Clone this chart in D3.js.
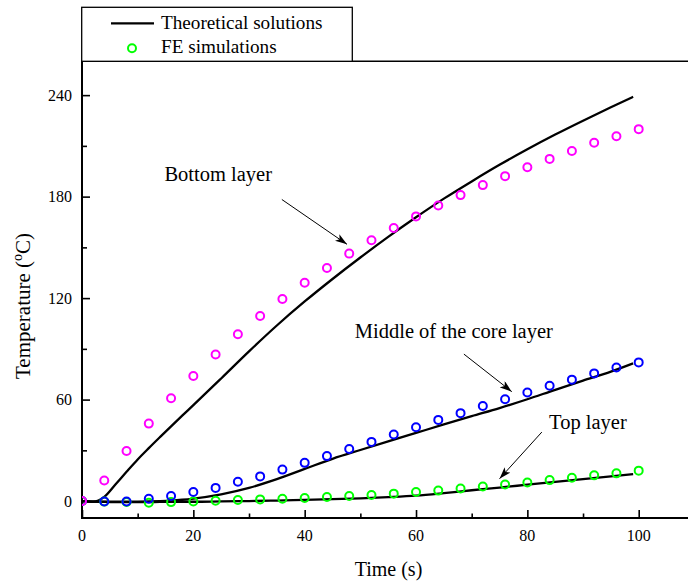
<!DOCTYPE html>
<html>
<head>
<meta charset="utf-8">
<script src="https://cdn.jsdelivr.net/npm/d3@7"></script>
<style>
  html, body { margin: 0; padding: 0; background: #fff; }
  svg { display: block; font-family: "Liberation Serif", "Times New Roman", serif; }
</style>
</head>
<body>
<svg id="chart" width="688" height="584"></svg>
<script>
// FE simulation sample times (s)
const timeFE = [0, 4, 8, 12, 16, 20, 24, 28, 32, 36, 40, 44, 48, 52, 56, 60, 64, 68, 72, 76, 80, 84, 88, 92, 96, 100];
// FE simulated temperatures (°C)
const bottomFE = [0, 12.2, 29.6, 45.8, 60.8, 74, 86.7, 98.6, 109.4, 119.5, 129.1, 137.8, 146.3, 154.2, 161.5, 168.3, 174.8, 180.9, 186.8, 192.1, 197.4, 202.3, 207, 211.8, 215.7, 219.9];
const middleFE = [0, -0.2, -0.2, 1.4, 3, 5.4, 7.8, 11.4, 14.6, 18.6, 22.6, 26.6, 30.8, 35, 39.4, 43.6, 48, 52, 56.2, 60.2, 64.2, 68.2, 71.8, 75.5, 79, 82];
const topFE = [0, -0.3, -0.5, -1, -0.6, -0.2, 0.2, 0.6, 1, 1.4, 1.8, 2.4, 3, 3.6, 4.4, 5.4, 6.2, 7.4, 8.6, 9.8, 11, 12.4, 13.8, 15.2, 16.4, 18];

// Theoretical solution sample times (s)
const timeTheory = [0, 2, 4, 6, 8, 10, 12, 14, 16, 18, 20, 25, 30, 35, 40, 45, 50, 55, 60, 65, 70, 75, 80, 85, 90, 95, 99];
// Theoretical temperatures (°C)
const bottomTheory = [0, -0.4, 2.5, 9.8, 17.3, 24.6, 31.3, 37.8, 44.2, 50.5, 56.7, 72.5, 88.5, 103.8, 118, 131.3, 144, 156.2, 167.8, 178.8, 189, 198.8, 208, 216.7, 224.9, 232.8, 239];
const middleTheory = [0, -0.3, -0.4, -0.4, -0.4, -0.3, -0.2, 0, 0.3, 0.8, 1.5, 4, 7.8, 13, 19, 25, 30.2, 35.3, 40.3, 45.3, 50.2, 55, 60.2, 65.8, 71.2, 76.5, 81.4];
const topTheory = [0, -0.3, -0.5, -0.6, -0.6, -0.6, -0.6, -0.5, -0.5, -0.4, -0.4, -0.2, 0, 0.3, 0.7, 1.1, 1.6, 2.3, 3.2, 4.7, 6.4, 8.0, 9.7, 11.4, 13.0, 14.6, 15.9];

// Axis ticks
const xMajorTicks = [0, 20, 40, 60, 80, 100];
const xMinorTicks = [10, 30, 50, 70, 90];
const yMajorTicks = [0, 60, 120, 180, 240];
const yMinorTicks = [30, 90, 150, 210];

// Series colours and legend
const feSeries = [
  { name: "Top layer", values: topFE, color: "#00ff00" },
  { name: "Middle of the core layer", values: middleFE, color: "#0000ff" },
  { name: "Bottom layer", values: bottomFE, color: "#ff00ff" }
];
const theorySeries = [topTheory, middleTheory, bottomTheory];
const legendLabels = ["Theoretical solutions", "FE simulations"];

// Layer labels with arrows (data coordinates)
const annotations = [
  { text: "Bottom layer", tx: 14.8, ty: 189.2, from: [35.9, 178.3], to: [47.6, 151.8] },
  { text: "Middle of the core layer", tx: 49.0, ty: 96.5, from: [68.6, 86.9], to: [77.2, 64.7] },
  { text: "Top layer", tx: 83.9, ty: 42.7, from: [82.6, 40.8], to: [75.0, 13.2] }
];

const svg = d3.select("#chart");
const W = 688, H = 584;
const plotLeft = 82, plotTop = 61.3, plotBottom = 518;

const x = d3.scaleLinear().domain([0, 110]).range([plotLeft, plotLeft + 110 * 5.567]);
const y = d3.scaleLinear().domain([-10, 260]).range([plotBottom, plotTop]);

// clip region for marks
const defs = svg.append("defs");
defs.append("clipPath").attr("id", "plotClip")
  .append("rect").attr("x", plotLeft).attr("y", plotTop)
  .attr("width", W - plotLeft).attr("height", plotBottom - plotTop);

defs.append("marker")
  .attr("id", "arrowHead")
  .attr("markerUnits", "userSpaceOnUse")
  .attr("viewBox", "0 0 12 8")
  .attr("refX", 12).attr("refY", 4)
  .attr("markerWidth", 12).attr("markerHeight", 8)
  .attr("orient", "auto")
  .append("path").attr("d", "M0,0 L12,4 L0,8 L3,4 Z").attr("fill", "#000");

// Axes with inward ticks
const xAxisMajor = d3.axisTop(x).tickValues(xMajorTicks).tickSize(8).tickFormat("");
const xAxisMinor = d3.axisTop(x).tickValues(xMinorTicks).tickSize(4.5).tickFormat("");
const yAxisMajor = d3.axisRight(y).tickValues(yMajorTicks).tickSize(8).tickFormat("");
const yAxisMinor = d3.axisRight(y).tickValues(yMinorTicks).tickSize(5).tickFormat("");

function styleAxis(g) {
  g.select(".domain").remove();
  g.selectAll(".tick line").attr("stroke", "#000").attr("stroke-width", 1.6);
}
svg.append("g").attr("transform", `translate(0,${plotBottom})`).call(xAxisMajor).call(styleAxis);
svg.append("g").attr("transform", `translate(0,${plotBottom})`).call(xAxisMinor).call(styleAxis);
svg.append("g").attr("transform", `translate(${plotLeft},0)`).call(yAxisMajor).call(styleAxis);
svg.append("g").attr("transform", `translate(${plotLeft},0)`).call(yAxisMinor).call(styleAxis);

// Frame lines: left, bottom, top
svg.append("line").attr("x1", plotLeft).attr("x2", plotLeft).attr("y1", plotTop).attr("y2", plotBottom + 1)
  .attr("stroke", "#000").attr("stroke-width", 2);
svg.append("line").attr("x1", plotLeft - 1).attr("x2", W).attr("y1", plotBottom).attr("y2", plotBottom)
  .attr("stroke", "#000").attr("stroke-width", 2);
svg.append("line").attr("x1", plotLeft - 1).attr("x2", W).attr("y1", plotTop).attr("y2", plotTop)
  .attr("stroke", "#000").attr("stroke-width", 1.4);

// Tick labels
svg.append("g").selectAll("text").data(xMajorTicks).join("text")
  .attr("x", d => x(d)).attr("y", 540.5)
  .attr("text-anchor", "middle").attr("font-size", 16).attr("fill", "#000")
  .text(d => d);
svg.append("g").selectAll("text").data(yMajorTicks).join("text")
  .attr("x", 72).attr("y", d => y(d)).attr("dy", "0.34em")
  .attr("text-anchor", "end").attr("font-size", 16).attr("fill", "#000")
  .text(d => d);

// Axis titles
svg.append("text").attr("x", 388.5).attr("y", 575.5)
  .attr("text-anchor", "middle").attr("font-size", 20).attr("fill", "#000")
  .text("Time (s)");
const yTitle = svg.append("text")
  .attr("transform", "translate(29.5,306) rotate(-90)")
  .attr("text-anchor", "middle").attr("font-size", 21).attr("fill", "#000");
yTitle.append("tspan").text("Temperature (");
yTitle.append("tspan").attr("font-size", 14).attr("dy", -8).text("o");
yTitle.append("tspan").attr("dy", 8).text("C)");

// Plot marks
const plot = svg.append("g").attr("clip-path", "url(#plotClip)");

const line = d3.line().x(d => x(d[0])).y(d => y(d[1])).curve(d3.curveMonotoneX);
plot.selectAll("path.theory").data(theorySeries).join("path")
  .attr("class", "theory")
  .attr("d", vals => line(timeTheory.map((t, i) => [t, vals[i]])))
  .attr("fill", "none").attr("stroke", "#000").attr("stroke-width", 2.3);

feSeries.forEach(s => {
  plot.append("g").selectAll("circle").data(timeFE.map((t, i) => [t, s.values[i]])).join("circle")
    .attr("cx", d => x(d[0])).attr("cy", d => y(d[1])).attr("r", 4)
    .attr("fill", "none").attr("stroke", s.color).attr("stroke-width", 2);
});

// Layer annotations
annotations.forEach(a => {
  svg.append("text").attr("x", x(a.tx)).attr("y", y(a.ty))
    .attr("font-size", 20.5).attr("fill", "#000").text(a.text);
  svg.append("line")
    .attr("x1", x(a.from[0])).attr("y1", y(a.from[1]))
    .attr("x2", x(a.to[0])).attr("y2", y(a.to[1]))
    .attr("stroke", "#000").attr("stroke-width", 1)
    .attr("marker-end", "url(#arrowHead)");
});

// Legend
const lg = svg.append("g");
lg.append("rect").attr("x", 81.7).attr("y", 7.3).attr("width", 270.6).attr("height", 54)
  .attr("fill", "#fff").attr("stroke", "#000").attr("stroke-width", 1.3);
lg.append("line").attr("x1", 111).attr("x2", 154).attr("y1", 23.3).attr("y2", 23.3)
  .attr("stroke", "#000").attr("stroke-width", 2.3);
lg.append("circle").attr("cx", 132).attr("cy", 48.3).attr("r", 4)
  .attr("fill", "none").attr("stroke", "#00ff00").attr("stroke-width", 2);
lg.selectAll("text").data(legendLabels).join("text")
  .attr("x", 161).attr("y", (d, i) => i === 0 ? 29.3 : 53.3)
  .attr("font-size", 19.2).attr("fill", "#000").text(d => d);
</script>
</body>
</html>
